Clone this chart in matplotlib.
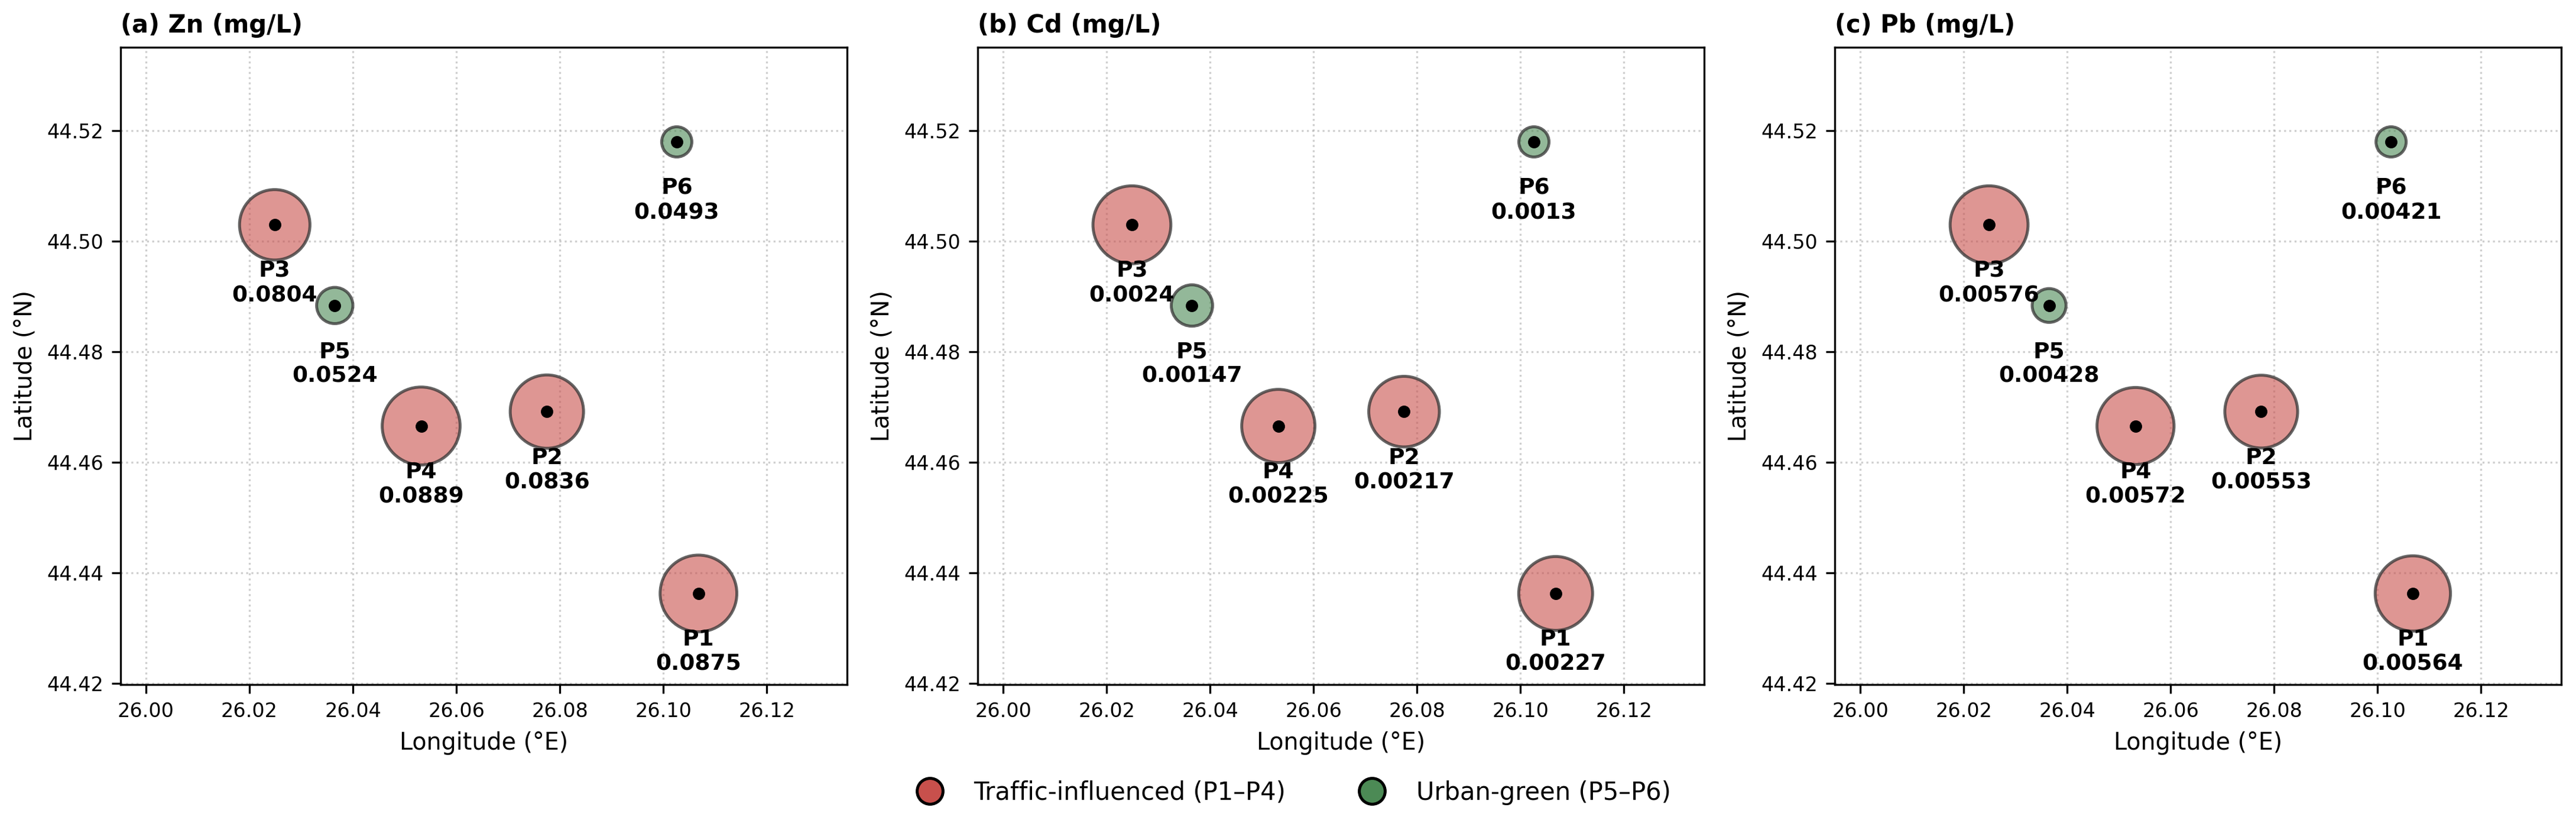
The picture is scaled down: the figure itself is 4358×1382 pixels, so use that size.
"""Sampling points map: heavy metal concentrations (Zn, Cd, Pb) per site."""

import numpy as np
import matplotlib
matplotlib.use('Agg')
import matplotlib.pyplot as plt
from matplotlib.colors import to_rgba
from matplotlib.lines import Line2D

# site data
site_names = ['P1', 'P2', 'P3', 'P4', 'P5', 'P6']
lon = [26.1068, 26.0775, 26.0249, 26.0532, 26.0365, 26.1026]
lat = [44.4363, 44.4692, 44.5030, 44.4666, 44.4884, 44.5180]
site_group = ['traffic', 'traffic', 'traffic', 'traffic', 'green', 'green']

zn_values = [0.0875, 0.0836, 0.0804, 0.0889, 0.0524, 0.0493]
cd_values = [0.00227, 0.00217, 0.0024, 0.00225, 0.00147, 0.0013]
pb_values = [0.00564, 0.00553, 0.00576, 0.00572, 0.00428, 0.00421]

panel_titles = ['(a) Zn (mg/L)', '(b) Cd (mg/L)', '(c) Pb (mg/L)']
panel_values = [zn_values, cd_values, pb_values]

group_colors = {'traffic': '#c8504c', 'green': '#4c8a55'}
group_labels = {'traffic': 'Traffic-influenced (P1\u2013P4)',
                'green': 'Urban-green (P5\u2013P6)'}

if __name__ == '__main__':

    fig, axes = plt.subplots(1, 3, figsize=(4358 / 300.0, 1382 / 300.0), dpi=300)
    fig.subplots_adjust(left=0.0468, right=0.9943, bottom=0.162, top=0.942, wspace=0.18)

    for ax, title, vals in zip(axes, panel_titles, panel_values):
        vals = np.array(vals)
        norm = (vals - vals.min()) / (vals.max() - vals.min())
        sizes = 150 + 850 * norm
        face = [to_rgba(group_colors[g], 0.6) for g in site_group]

        ax.scatter(lon, lat, s=sizes, c=face, edgecolors=[(0.2, 0.2, 0.2, 0.75)],
                   linewidths=1.2, zorder=2)
        ax.scatter(lon, lat, s=16, c='k', zorder=3)

        for name, x, y, v in zip(site_names, lon, lat, vals):
            ax.annotate('%s\n%s' % (name, '%.3g' % v), (x, y), xytext=(0, -14.5),
                        textcoords='offset points', ha='center', va='top',
                        fontsize=9, fontweight='bold', zorder=4)

        ax.set_xlim(25.9951, 26.1355)
        ax.set_ylim(44.4198, 44.5351)
        ax.grid(True, linestyle=':', color='#b0b0b0', alpha=0.6, linewidth=0.8)
        ax.set_axisbelow(True)
        ax.set_title(title, loc='left', fontsize=10, fontweight='bold')
        ax.set_xlabel('Longitude (\u00b0E)', fontsize=9.5)
        ax.set_ylabel('Latitude (\u00b0N)', fontsize=9.5)
        ax.tick_params(labelsize=8)

    handles = [Line2D([0], [0], marker='o', linestyle='none', markersize=10.5,
                      markerfacecolor=group_colors[g], markeredgecolor='k',
                      markeredgewidth=1.2, label=group_labels[g])
               for g in ['traffic', 'green']]
    fig.legend(handles=handles, loc='center', bbox_to_anchor=(0.5, 0.03), ncol=2,
               frameon=False, fontsize=10, columnspacing=2.5)

    fig.savefig('out.png', dpi=300)
